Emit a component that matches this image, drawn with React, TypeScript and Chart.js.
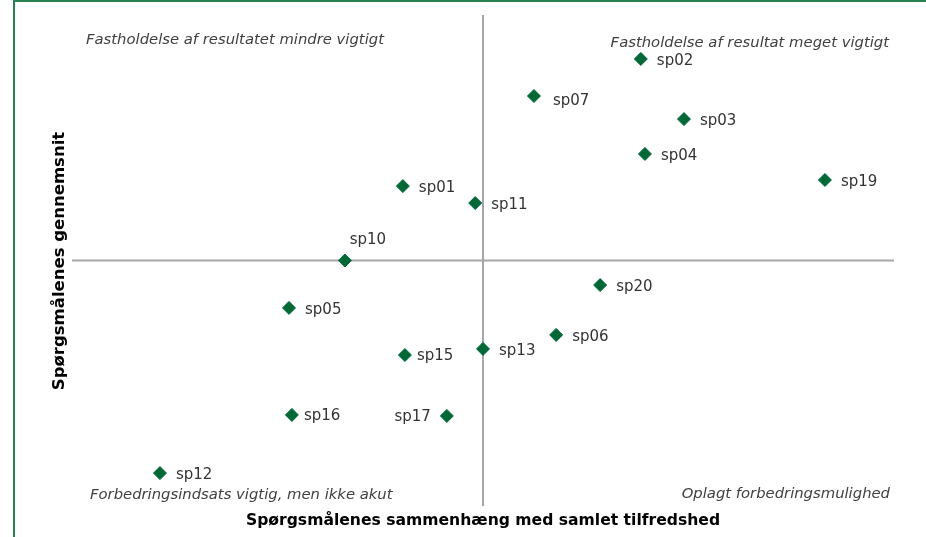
import React, { useEffect, useRef } from "react";
import { Chart, registerables } from "chart.js";

Chart.register(...registerables);

const labels = ["sp02", "sp07", "sp03", "sp04", "sp19", "sp01", "sp11", "sp10", "sp20", "sp05", "sp06", "sp13", "sp15", "sp16", "sp17", "sp12"];
const xValues = [0.384, 0.124, 0.489, 0.394, 0.832, -0.195, -0.019, -0.336, 0.285, -0.472, 0.178, 0.0, -0.19, -0.465, -0.088, -0.786];
const yValues = [0.821, 0.67, 0.576, 0.434, 0.328, 0.303, 0.234, 0.0, -0.1, -0.193, -0.303, -0.36, -0.385, -0.629, -0.633, -0.866];
const quadrantTexts = [
  "Fastholdelse af resultatet mindre vigtigt",
  "Fastholdelse af resultat meget vigtigt",
  "Forbedringsindsats vigtig, men ikke akut",
  "Oplagt forbedringsmulighed",
];
const xTitle = "Spørgsmålenes sammenhæng med samlet tilfredshed";
const yTitle = "Spørgsmålenes gennemsnit";

// label placement style per point
const labelPlacement: Record<string, string> = {
  sp10: "above",
  sp17: "left",
  sp15: "near",
  sp16: "near",
  sp07: "far",
};

const GREEN = "#006837";

export default function App() {
  const ref = useRef<HTMLCanvasElement>(null);
  useEffect(() => {
    const canvas = ref.current!;
    const overlay = {
      id: "overlay",
      beforeDatasetsDraw(chart: any) {
        const { ctx, scales } = chart;
        const xs = scales.x, ys = scales.y;
        const x0 = xs.getPixelForValue(0);
        const y0 = ys.getPixelForValue(0);
        ctx.save();
        // frame
        ctx.strokeStyle = "#2a8050";
        ctx.lineWidth = 2;
        ctx.beginPath();
        ctx.moveTo(14, 540);
        ctx.lineTo(14, 1);
        ctx.lineTo(930, 1);
        ctx.stroke();
        // cross
        ctx.strokeStyle = "#a6a6a6";
        ctx.lineWidth = 2;
        ctx.beginPath();
        ctx.moveTo(x0, chart.chartArea.top);
        ctx.lineTo(x0, chart.chartArea.bottom);
        ctx.moveTo(chart.chartArea.left, y0);
        ctx.lineTo(chart.chartArea.right, y0);
        ctx.stroke();
        ctx.restore();
      },
      afterDatasetsDraw(chart: any) {
        const { ctx, scales } = chart;
        const xs = scales.x, ys = scales.y;
        ctx.save();
        ctx.fillStyle = "#333333";
        ctx.font = "15px 'DejaVu Sans'";
        ctx.textBaseline = "middle";
        labels.forEach((lab, i) => {
          const px = xs.getPixelForValue(xValues[i]);
          const py = ys.getPixelForValue(yValues[i]);
          const p = labelPlacement[lab];
          if (p === "above") {
            ctx.textAlign = "center";
            ctx.fillText(lab, px + 23, py - 20);
          } else if (p === "left") {
            ctx.textAlign = "right";
            ctx.fillText(lab, px - 16, py + 1);
          } else if (p === "near") {
            ctx.textAlign = "left";
            ctx.fillText(lab, px + 12, py + 1);
          } else if (p === "far") {
            ctx.textAlign = "left";
            ctx.fillText(lab, px + 19, py + 5);
          } else {
            ctx.textAlign = "left";
            ctx.fillText(lab, px + 16, py + 2);
          }
        });
        // quadrant texts
        ctx.fillStyle = "#404040";
        ctx.font = "italic 14.8px 'DejaVu Sans'";
        ctx.textAlign = "left";
        ctx.fillText(quadrantTexts[0], 86, 40);
        ctx.fillText(quadrantTexts[2], 90, 495);
        ctx.textAlign = "right";
        ctx.fillText(quadrantTexts[1], 889, 43);
        ctx.fillText(quadrantTexts[3], 890, 494);
        // axis titles
        ctx.fillStyle = "#000000";
        ctx.font = "bold 15.6px 'DejaVu Sans'";
        ctx.textAlign = "center";
        ctx.fillText(xTitle, 483, 521);
        ctx.save();
        ctx.translate(60, 261);
        ctx.rotate(-Math.PI / 2);
        ctx.font = "bold 16.5px 'DejaVu Sans'";
        ctx.fillText(yTitle, 0, 0);
        ctx.restore();
        ctx.restore();
      },
    };
    const chart = new Chart(canvas, {
      type: "scatter",
      data: {
        datasets: [
          {
            data: xValues.map((x, i) => ({ x, y: yValues[i] })),
            pointStyle: "rectRot",
            pointRadius: 6.5,
            backgroundColor: GREEN,
            borderColor: GREEN,
            borderWidth: 1,
          },
        ],
      },
      options: {
        animation: false,
        responsive: false,
        layout: { padding: { left: 72, right: 32, top: 15, bottom: 31 } },
        plugins: { legend: { display: false }, tooltip: { enabled: false } },
        scales: {
          x: { type: "linear", min: -1, max: 1, display: false },
          y: { type: "linear", min: -1, max: 1, display: false },
        },
      },
      plugins: [overlay],
    });
    return () => chart.destroy();
  }, []);
  return (
    <div style={{ position: "fixed", left: 0, top: 0, width: 926, height: 537, background: "#fff" }}>
      <canvas ref={ref} width={926} height={537} style={{ display: "block" }} />
    </div>
  );
}
